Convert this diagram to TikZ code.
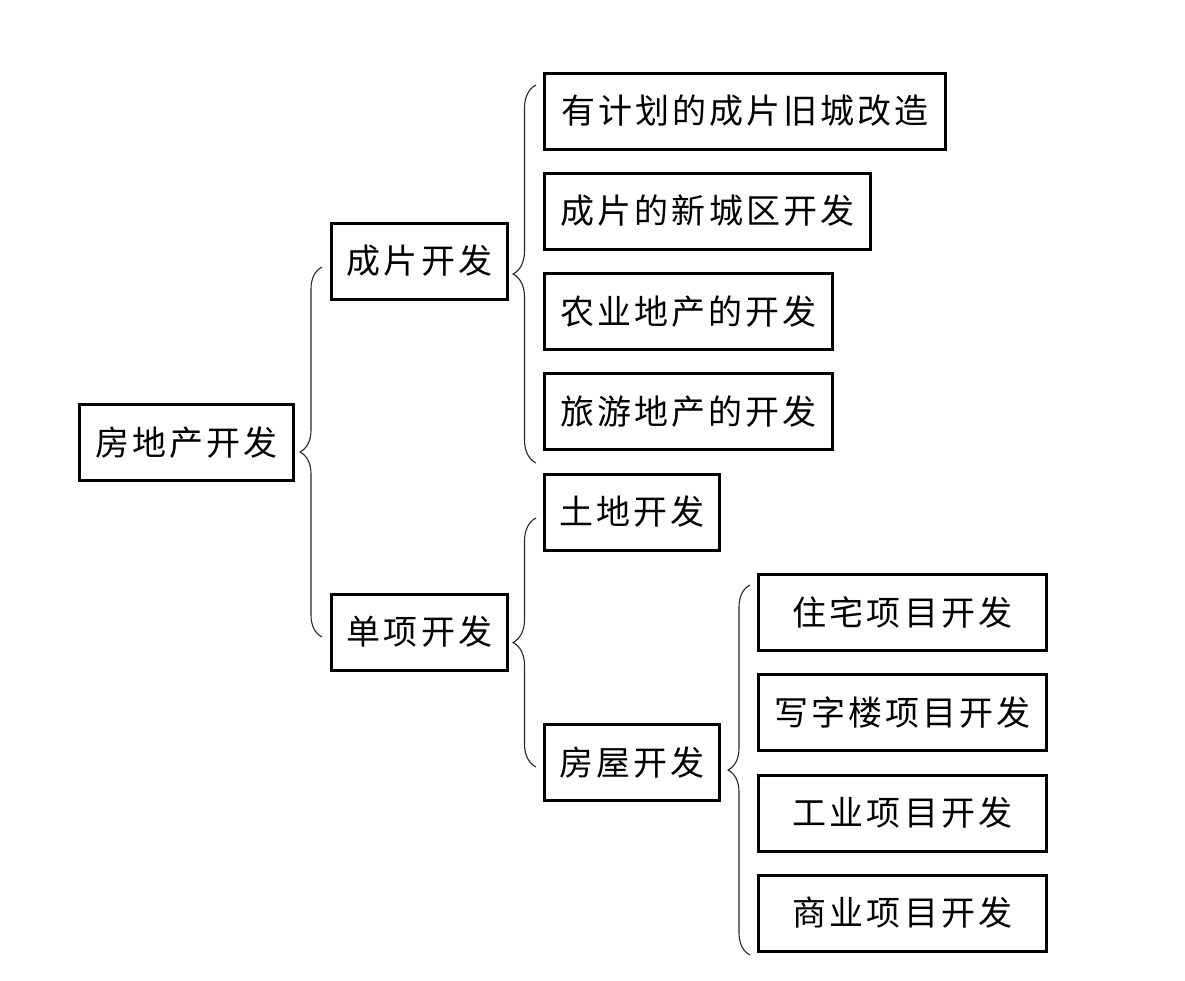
\documentclass[tikz,border=0pt]{standalone}
\usepackage{fontspec}
\newfontfamily\cjk[LetterSpace=9]{Noto Sans CJK SC}
\usetikzlibrary{decorations.pathreplacing}
\begin{document}
\begin{tikzpicture}[x=1pt,y=-1pt,
  box/.style={draw, line width=3pt, inner sep=0pt, minimum height=76pt,
    font=\cjk\fontsize{34}{34}\selectfont},
  brc/.style={decorate, decoration={brace, amplitude=#1}, line width=1.1pt, draw=black!85},
  brc/.default=22pt]
\useasboundingbox (0,0) rectangle (1185,980);
% level 0
\node[box, minimum width=214pt] (root) at (186.5,442.5) {房地产开发};
% level 1
\node[box, minimum width=176pt] (A) at (419.5,261) {成片开发};
\node[box, minimum width=176pt] (B) at (419.5,632) {单项开发};
% level 2 (A)
\node[box, minimum width=401pt] (a1) at (745,111) {有计划的成片旧城改造};
\node[box, minimum width=326pt] (a2) at (707.5,211) {成片的新城区开发};
\node[box, minimum width=288pt] (a3) at (688.5,311.5) {农业地产的开发};
\node[box, minimum width=288pt] (a4) at (688.5,411.5) {旅游地产的开发};
% level 2 (B)
\node[box, minimum width=175pt] (b1) at (632,512) {土地开发};
\node[box, minimum width=175pt] (b2) at (632,762.5) {房屋开发};
% level 3
\node[box, minimum width=288pt] (c1) at (902.5,612) {住宅项目开发};
\node[box, minimum width=288pt] (c2) at (902.5,712.5) {写字楼项目开发};
\node[box, minimum width=288pt] (c3) at (902.5,813) {工业项目开发};
\node[box, minimum width=288pt] (c4) at (902.5,913) {商业项目开发};
% braces
\coordinate (r0t) at (322,267);  \coordinate (r0b) at (322,637);
\coordinate (rAt) at (536,85);   \coordinate (rAb) at (536,463);
\coordinate (rBt) at (536,518);  \coordinate (rBb) at (536,767);
\coordinate (rCt) at (750,585);  \coordinate (rCb) at (750,955);
\draw[brc] (r0b) -- (r0t);
\draw[brc=23pt] (rAb) -- (rAt);
\draw[brc=23pt] (rBb) -- (rBt);
\draw[brc] (rCb) -- (rCt);
\end{tikzpicture}
\end{document}
